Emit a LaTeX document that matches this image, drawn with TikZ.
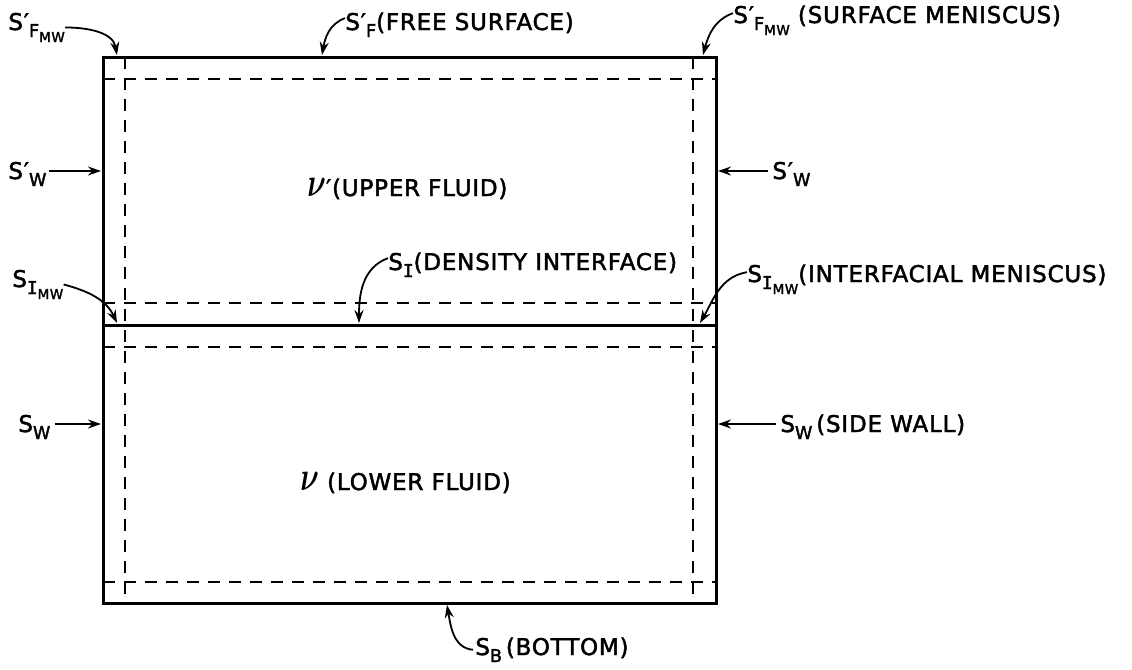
\documentclass[tikz,border=0pt]{standalone}
\usepackage{graphicx}
\usepackage{amsmath}
\usepackage{fontspec}
\setmainfont{DejaVu Sans}[LetterSpace=3.5, FakeBold=2]
\newfontfamily\serifI{DejaVu Sans Mono}[FakeBold=2]
\usetikzlibrary{calc}
\usetikzlibrary{arrows.meta}

\newcommand{\subone}[1]{\raisebox{-3.5pt}{\fontsize{8.8}{9}\selectfont #1}}
\newcommand{\subtwo}[1]{\raisebox{-2.5pt}{\fontsize{6.8}{7}\selectfont #1}}
\newcommand{\tick}{\char"2032\relax}
\newcommand{\nuvol}{\scalebox{1.2}[1.7]{$\boldsymbol{\nu}$}}

\begin{document}
\begin{tikzpicture}[x=0.5pt, y=-0.5pt,
    wallline/.style={line width=1.5pt},
    layerline/.style={line width=0.8pt, dash pattern=on 6pt off 4.5pt},
    lettering/.style={anchor=base west, inner sep=0pt, font=\fontsize{11.5}{13}\selectfont},
    pointer/.style={line width=0.9pt, -{Stealth[length=6.5pt,width=4.5pt]}}]

    \useasboundingbox (0,0) rectangle (1132,670);

    \coordinate (P1) at (103,57);
    \coordinate (P2) at (716,57);
    \coordinate (P3) at (716,603);
    \coordinate (P4) at (103,603);
    \coordinate (I1) at (103,325);
    \coordinate (I2) at (716,325);

    % boundary layers
    \draw[layerline] (125,57) -- (125,603);
    \draw[layerline] (693,57) -- (693,603);
    \foreach \y in {79,303,347,582}
        \draw[layerline] (103,\y) -- (716,\y);

    \draw[wallline] (P1) -- (P2) -- (P3) -- (P4) -- cycle;
    \draw[wallline] (I1) -- (I2);

    \node[lettering] (fmwL) at (8,30) {S\tick\subone{F\subtwo{MW}}};
    \node[lettering] (fsT) at (345,30) {S\tick\subone{F}(FREE SURFACE)};
    \node[lettering] (fmwR) at (733,23) {S\tick\subone{F\subtwo{MW}} (SURFACE MENISCUS)};
    \node[lettering] (wUL) at (8,179) {S\tick\subone{W}};
    \node[lettering] (wUR) at (772,179) {S\tick\subone{W}};
    \node[lettering] (upper) at (307,196) {\nuvol\tick(UPPER FLUID)};
    \node[lettering] (imwL) at (12,287) {S\subone{{\serifI I}\subtwo{MW}}};
    \node[lettering] (iC) at (388,270) {S\subone{\serifI I}(DENSITY INTERFACE)};
    \node[lettering] (imwR) at (747,282) {S\subone{{\serifI I}\subtwo{MW}}(INTERFACIAL MENISCUS)};
    \node[lettering] (wLL) at (18,432) {S\subone{W}};
    \node[lettering] (wLR) at (780,432) {S\subone{W}\,(SIDE WALL)};
    \node[lettering] (lower) at (300,490) {\nuvol\ (LOWER FLUID)};
    \node[lettering] (bot) at (475,655) {S\subone{B}\,(BOTTOM)};

    \coordinate (aFMWL) at (117,55);
    \coordinate (aFS) at (322,55);
    \coordinate (aFMWR) at (703,55);
    \coordinate (aWUL) at (101,171);
    \coordinate (aWUR) at (718,171);
    \coordinate (aIMWL) at (117,323);
    \coordinate (aIC) at (359,323);
    \coordinate (aIMWR) at (700,323);
    \coordinate (aWLL) at (101,424);
    \coordinate (aWLR) at (718,424);
    \coordinate (aB) at (447,605);

    \draw[pointer] (fmwL.east) to[out=0,in=100] (aFMWL);
    \draw[pointer] ([yshift=-3pt]fsT.north west) to[out=200,in=80] (aFS);
    \draw[pointer] ([yshift=-4pt]fmwR.north west) to[out=200,in=75] (aFMWR);
    \draw[pointer] ([xshift=1pt]wUL.east |- aWUL) -- (aWUL);
    \draw[pointer] ([xshift=-2pt]wUR.west |- aWUR) -- (aWUR);
    \draw[pointer] (imwL.east) to[out=-15,in=115] (aIMWL);
    \draw[pointer] ([yshift=-3pt]iC.north west) to[out=200,in=90] (aIC);
    \draw[pointer] ([yshift=-4pt]imwR.north west) to[out=190,in=60] (aIMWR);
    \draw[pointer] ([xshift=2pt]wLL.east |- aWLL) -- (aWLL);
    \draw[pointer] ([xshift=-2pt]wLR.west |- aWLR) -- (aWLR);
    \draw[pointer] ([xshift=-1pt]bot.west) to[out=175,in=-80] (aB);

\end{tikzpicture}
\end{document}
